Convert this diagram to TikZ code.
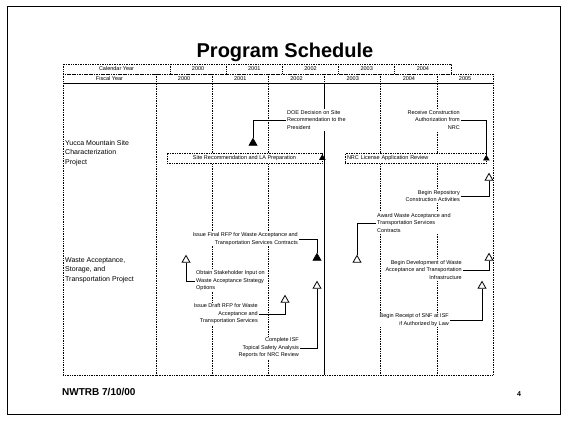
\documentclass[tikz,border=0pt]{standalone}
\usepackage{fontspec}
\setmainfont{Liberation Sans}
\usetikzlibrary{shapes.geometric}

\begin{document}
\begin{tikzpicture}[x=1pt, y=-1pt, every node/.style={font=\fontsize{5.5}{7.5}\selectfont, inner sep=1pt},
	grid/.style={dash pattern=on 0.8pt off 0.9pt, line width=0.7pt},
	note/.style={fill=white, inner sep=1pt},
	bar/.style={draw, dash pattern=on 0.8pt off 0.9pt, line width=0.7pt, fill=white, minimum height=10pt, inner sep=0pt},
	link/.style={line width=0.6pt},
	openms/.style={draw, solid, regular polygon, regular polygon sides=3, minimum size=9pt, inner sep=0pt, line width=0.8pt, fill=white},
	donems/.style={openms, fill=black}]
	\useasboundingbox (0,0) rectangle (567,421);
	\draw[line width=0.6pt] (7,6) rectangle (560,414);
	\node[font=\fontsize{20}{24}\selectfont\bfseries, anchor=base] (title) at (285,57) {Program Schedule};
	% header rows
	\draw[grid] (63,64) rectangle (451,74);
	\draw[grid] (63,74) rectangle (493.2,83);
	\node (cylabel) at (116.5,69) {Calendar Year};
	\node (fylabel) at (109.5,78.5) {Fiscal Year};
	\foreach \yr [count=\k from 0] in {2000,...,2004} {
		\draw[grid] (170+56.2*\k,64) -- (170+56.2*\k,74);
		\node (cy\yr) at (198.1+56.2*\k,69) {\yr};
	}
	\foreach \yr [count=\k from 0] in {2000,...,2005}
		\node (fy\yr) at (184.1+56.2*\k,78.5) {\yr};
	% body grid
	\draw[grid] (63,83) rectangle (493.2,375);
	\foreach \k in {0,1,2,4,5} \draw[grid] (156+56.2*\k,74) -- (156+56.2*\k,375);
	\draw[grid] (324.6,74) -- (324.6,83);
	\draw[line width=0.7pt] (324.6,83) -- (324.6,375);
	\node[font=\fontsize{7}{9.5}\selectfont, anchor=west, align=left] (ymp) at (64,153) {Yucca Mountain Site\\Characterization\\Project};
	\node[font=\fontsize{7}{9.5}\selectfont, anchor=west, align=left] (wast) at (64,270) {Waste Acceptance,\\Storage, and\\Transportation Project};
	% site project
	\node[bar, minimum width=155pt] (srbar) at (244.5,158) {Site Recommendation and LA Preparation};
	\node[bar, text width=137pt, inner xsep=2pt, align=left] (labar) at (415.5,158.5) {NRC License Application Review};
	\node[donems, minimum size=6pt] (lasub) at (srbar.east) {};
	\node[donems, minimum size=6pt] (cauth) at (labar.east) {};
	\node[donems] (srdec) at (253,143) {};
	\node[note, anchor=west, align=left] (srtxt) at (286,120) {DOE Decision on Site\\Recommendation to the\\President};
	\draw[link] (srtxt.west) -| (srdec.north);
	\node[note, anchor=east, align=right] (catxt) at (461,120) {Receive Construction\\Authorization from\\NRC};
	\draw[link] (catxt.east) -| (cauth.north);
	\node[openms] (constr) at (489,178) {};
	\node[note, anchor=east, align=right] (cotxt) at (461,196) {Begin Repository\\Construction Activities};
	\draw[link] (cotxt.east) -| (constr.south);
	% waste acceptance project
	\node[openms] (award) at (357,260) {};
	\node[note, anchor=west, align=left] (awtxt) at (376,223) {Award Waste Acceptance and\\Transportation Services\\Contracts};
	\draw[link] (awtxt.west) -| (award.north);
	\node[openms] (infra) at (489,258) {};
	\node[note, anchor=east, align=right] (inftxt) at (463,270) {Begin Development of Waste\\Acceptance and Transportation\\Infrastructure};
	\draw[link] (inftxt.east) -| (infra.south);
	\node[openms] (isf) at (482,286) {};
	\node[note, anchor=east, align=right] (isftxt) at (450,320) {Begin Receipt of SNF at ISF\\if Authorized by Law};
	\draw[link] (isftxt.east) -| (isf.south);
	\node[donems] (rfp) at (317,258) {};
	\node[note, anchor=east, align=right] (rfptxt) at (299,239) {Issue Final RFP for Waste Acceptance and\\Transportation Services Contracts};
	\draw[link] (rfptxt.east) -| (rfp.north);
	\node[openms] (input) at (186,260) {};
	\node[note, anchor=west, align=left] (inptxt) at (195,281) {Obtain Stakeholder Input on\\Waste Acceptance Strategy\\Options};
	\draw[link] (input.south) |- (inptxt.west);
	\node[openms] (draft) at (285,300) {};
	\node[note, anchor=east, align=right] (drtxt) at (259,314) {Issue Draft RFP for Waste\\Acceptance and\\Transportation Services};
	\draw[link] (drtxt.east) -| (draft.south);
	\node[openms] (tsar) at (317,286) {};
	\node[note, anchor=east, align=right] (tstxt) at (300,348) {Complete ISF\\Topical Safety Analysis\\Reports for NRC Review};
	\draw[link] (tstxt.east) -| (tsar.south);
	% footer
	\node[font=\fontsize{10}{12}\selectfont\bfseries, anchor=base west, inner sep=0pt] (foot) at (62,395) {NWTRB 7/10/00};
	\node[font=\fontsize{7}{8}\selectfont\bfseries, anchor=base, inner sep=0pt] (page) at (519,396) {4};
\end{tikzpicture}
\end{document}
